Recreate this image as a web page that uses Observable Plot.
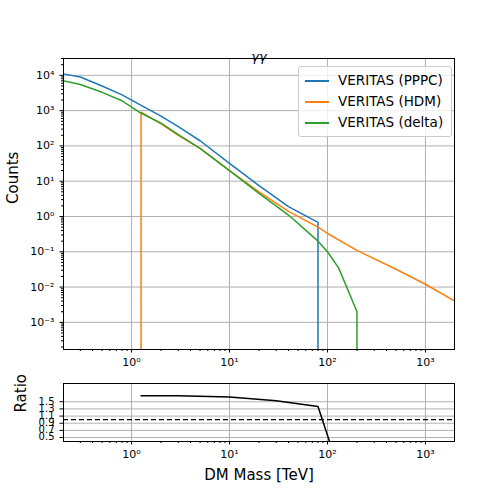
<!DOCTYPE html>
<html><head><meta charset="utf-8">
<script src="https://cdn.jsdelivr.net/npm/d3@7"></script>
<script src="https://cdn.jsdelivr.net/npm/@observablehq/plot@0.6"></script>
<style>body{margin:0;background:#fff;font-family:"DejaVu Sans",sans-serif}#w{position:relative;width:504px;height:504px}#w>div,#w>svg{position:absolute;left:0}</style>
</head><body><div id="w"></div>
<script>
const pppcX=[0.2,0.3,0.5,0.8,1.2,2,3,5,10,20,40,80,80];
const pppcY=[11000,9000,5000,2800,1500,700,350,140,32,7.5,1.9,0.68,1e-6];
const hdmX=[1.25,1.25,2,3,5,10,20,40,80,100,200,500,1000,2000];
const hdmY=[1e-6,900,420,200,85,20,5,1.4,0.5,0.33,0.11,0.032,0.012,0.004];
const deltaX=[0.2,0.3,0.5,0.8,1.2,2,3,5,10,20,40,80,100,130,200,200];
const deltaY=[7000,5500,3300,1900,900,440,210,85,20,4.5,1.1,0.2,0.1,0.035,0.002,1e-6];
const ratioX=[1.25,3,10,30,80,105];
const ratioY=[1.67,1.665,1.63,1.53,1.37,0.39];
const names=["VERITAS (PPPC)","VERITAS (HDM)","VERITAS (delta)"];
const colors=["#1f77b4","#ff7f0e","#2ca02c"];
const sup=n=>String(n).split("").map(c=>({"-":"⁻","0":"⁰","1":"¹","2":"²","3":"³","4":"⁴","5":"⁵","6":"⁶","7":"⁷","8":"⁸","9":"⁹"})[c]).join("");
const fmt=d=>"10"+sup(Math.round(Math.log10(d)));
const minor=(lo,hi)=>{const a=[];for(let e=lo;e<=hi;e++)for(let k=2;k<10;k++)a.push(k*10**e);return a;};
const rows=[];
[[pppcX,pppcY],[hdmX,hdmY],[deltaX,deltaY]].forEach(([xs,ys],i)=>xs.forEach((x,j)=>rows.push({s:names[i],x,y:ys[j]})));
const xd=[0.202,1980];
const main=Plot.plot({width:504,height:370,marginTop:58,marginBottom:21,marginLeft:63,marginRight:50,
 style:{fontFamily:"DejaVu Sans",fontSize:"10px",color:"#000"},
 x:{type:"log",domain:xd},y:{type:"log",domain:[1.7e-4,3e4]},
 color:{domain:names,range:colors},
 marks:[
  Plot.gridX([1,10,100,1000],{stroke:"#b0b0b0",strokeOpacity:1}),
  Plot.gridY([1e-3,1e-2,1e-1,1,10,100,1000,1e4],{stroke:"#b0b0b0",strokeOpacity:1}),
  Plot.axisX([1,10,100,1000],{tickFormat:fmt,label:null,tickSize:3.5,fontSize:11}),
  Plot.axisX(minor(-1,3).filter(v=>v>=xd[0]&&v<=xd[1]),{tickFormat:()=>"",tickSize:2,label:null}),
  Plot.axisY([1e-3,1e-2,1e-1,1,10,100,1000,1e4],{tickFormat:fmt,label:null,tickSize:3.5,fontSize:11}),
  Plot.axisY(minor(-4,4).filter(v=>v>=1.7e-4&&v<=3e4),{tickFormat:()=>"",tickSize:2,label:null}),
  Plot.line(rows,{x:"x",y:"y",z:"s",stroke:"s",strokeWidth:1.5,clip:true}),
  Plot.frame({stroke:"#000"}),
  Plot.text(["Counts"],{frameAnchor:"left",dx:-50,rotate:-90,fontSize:15}),
  Plot.text(["γγ"],{frameAnchor:"top",dy:-7,fontSize:13,fontStyle:"italic"})
 ]});
const rat=Plot.plot({width:504,height:134,marginTop:13,marginBottom:63,marginLeft:63,marginRight:50,
 style:{fontFamily:"DejaVu Sans",fontSize:"10px",color:"#000"},
 x:{type:"log",domain:xd},y:{domain:[0.39,2.01]},
 marks:[
  Plot.gridX([1,10,100,1000],{stroke:"#b0b0b0",strokeOpacity:1}),
  Plot.gridY([0.5,0.7,0.9,1.1,1.3,1.5],{stroke:"#b0b0b0",strokeOpacity:1}),
  Plot.axisX([1,10,100,1000],{tickFormat:fmt,label:null,tickSize:3.5,fontSize:11}),
  Plot.axisX(minor(-1,3).filter(v=>v>=xd[0]&&v<=xd[1]),{tickFormat:()=>"",tickSize:2,label:null}),
  Plot.axisY([0.5,0.7,0.9,1.1,1.3,1.5],{tickFormat:d=>d.toFixed(1),label:null,tickSize:3.5,fontSize:10,lineHeight:0.9}),
  Plot.ruleY([1],{stroke:"#000",strokeDasharray:"5,3",strokeWidth:1.3}),
  Plot.line(ratioX.map((x,i)=>({x,y:ratioY[i]})),{x:"x",y:"y",stroke:"#000",strokeWidth:1.5,clip:true}),
  Plot.frame({stroke:"#000"}),
  Plot.text(["Ratio"],{frameAnchor:"left",dx:-42,rotate:-90,fontSize:15}),
  Plot.text(["DM Mass [TeV]"],{frameAnchor:"bottom",dy:38,fontSize:15})
 ]});
const w=document.getElementById("w");
main.style.top="0px";rat.style.top="370px";
w.append(main,rat);
const leg=document.createElement("div");
leg.style.cssText="top:66px;left:298px;width:146px;border:1px solid #ccc;border-radius:3px;background:rgba(255,255,255,0.8);padding:3px 0 3px 6px;font-size:13.5px;line-height:21px";
leg.innerHTML=names.map((n,i)=>`<div><span style="display:inline-block;width:24px;height:2px;background:${colors[i]};vertical-align:middle;margin-right:9px"></span>${n}</div>`).join("");
w.append(leg);
</script></body></html>
